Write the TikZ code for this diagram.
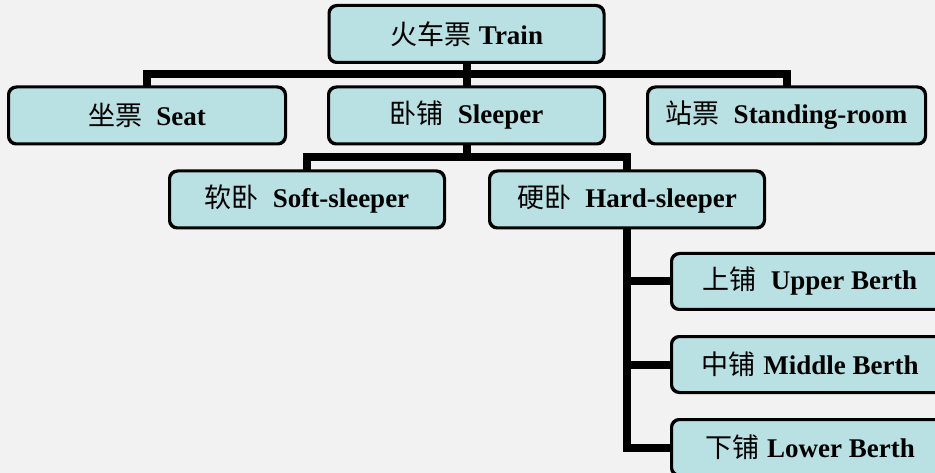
\documentclass[tikz,border=0pt]{standalone}
\usepackage{fontspec}
\setmainfont{Liberation Serif}
\newfontfamily\cjk{Noto Sans CJK SC}
\newcommand{\zh}[1]{{\cjk\mdseries\fontsize{27}{30}\selectfont #1}}
\newcommand{\gapA}{\hspace{8pt}}
\newcommand{\gapB}{\hspace{14pt}}
\definecolor{bgc}{HTML}{F2F2F2}
\definecolor{boxc}{HTML}{B9E0E3}
\begin{document}
\begin{tikzpicture}[x=1pt,y=-1pt,
  box/.style={draw=black,line width=2pt,fill=boxc,rounded corners=8pt,
    inner sep=0pt,minimum width=274pt,minimum height=56pt,
    font=\fontsize{27}{30}\selectfont\bfseries},
  conn/.style={line width=8pt,line join=miter,draw=black}]
\fill[bgc] (0,0) rectangle (935,473);
\useasboundingbox (0,0) rectangle (935,473);
\clip (0,0) rectangle (935,473);
% nodes
\node[box] (train)    at (466.5,34)  {\zh{火车票}\gapA Train};
\node[box,minimum width=276pt] (seat)     at (147,115.5) {\zh{坐票}\gapB Seat};
\node[box,minimum width=275pt] (sleeper)  at (466.5,115.5) {\zh{卧铺}\gapB Sleeper};
\node[box,minimum width=277pt] (standing) at (786.5,115.5) {\zh{站票}\gapB Standing-room};
\node[box] (soft)     at (307,199.5) {\zh{软卧}\gapB Soft-sleeper};
\node[box] (hard)     at (627,199.5) {\zh{硬卧}\gapB Hard-sleeper};
\node[box,minimum width=276pt,minimum height=55pt] (upper)  at (810,281.5) {\zh{上铺}\gapB Upper Berth};
\node[box,minimum width=276pt,minimum height=55pt] (middle) at (810,364.5) {\zh{中铺}\gapA Middle Berth};
\node[box,minimum width=276pt,minimum height=55pt] (lower)  at (810,447.5) {\zh{下铺}\gapA Lower Berth};
% connectors
\coordinate (b1) at (466.5,74);
\coordinate (b2) at (466.5,157);
\draw[conn] (train.south) -- (sleeper.north);
\draw[conn] (seat.north) |- (b1) -| (standing.north);
\draw[conn] (sleeper.south) -- (b2);
\draw[conn] (soft.north) |- (b2) -| (hard.north);
\draw[conn] (hard.south) |- (lower.west);
\draw[conn] (hard.south |- upper.west) -- (upper.west);
\draw[conn] (hard.south |- middle.west) -- (middle.west);
% redraw box borders over connector ends
\foreach \n in {train,seat,sleeper,standing,soft,hard,upper,middle,lower}{
  \draw[line width=2pt,rounded corners=8pt] (\n.north west) rectangle (\n.south east);
}
\end{tikzpicture}
\end{document}
